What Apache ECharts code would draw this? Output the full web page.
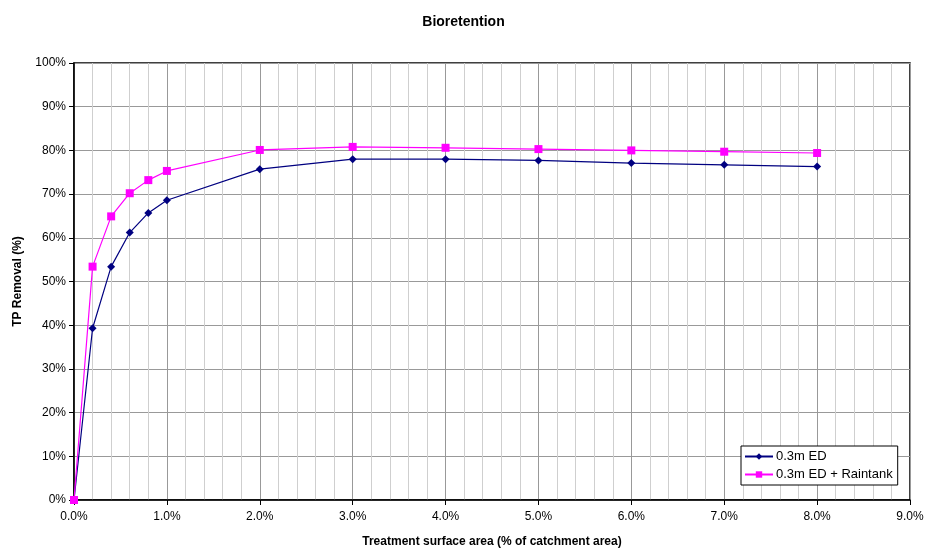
<!DOCTYPE html>
<html><head><meta charset="utf-8">
<script src="https://cdn.jsdelivr.net/npm/echarts@6/dist/echarts.min.js"></script>
<style>html,body{margin:0;padding:0;background:#fff}#c{width:927px;height:553px}</style>
</head><body><div id="c"></div>
<script>
const xValues = [0, 0.2, 0.4, 0.6, 0.8, 1.0, 2.0, 3.0, 4.0, 5.0, 6.0, 7.0, 8.0];
const edValues = [0, 39.3, 53.4, 61.2, 65.7, 68.6, 75.7, 78.0, 78.0, 77.7, 77.1, 76.7, 76.3];
const raintankValues = [0, 53.4, 64.9, 70.2, 73.2, 75.3, 80.1, 80.8, 80.6, 80.3, 80.0, 79.7, 79.4];
const seriesNames = ['0.3m ED', '0.3m ED + Raintank'];

const font = 'Liberation Sans, Arial, sans-serif';
const chart = echarts.init(document.getElementById('c'));
chart.setOption({
  animation: false,
  backgroundColor: '#fff',
  title: { text: 'Bioretention', left: 'center', top: 10,
    textStyle: { fontFamily: font, fontSize: 14, fontWeight: 'bold', color: '#000' } },
  grid: { left: 74, right: 17, top: 63, bottom: 53, show: true, borderColor: '#000', borderWidth: 1.5, backgroundColor: 'transparent' },
  legend: {
    left: 741, top: 446, orient: 'vertical', backgroundColor: '#fff', borderColor: '#000', borderWidth: 1,
    padding: [4, 5, 4, 3], itemGap: 5, itemWidth: 28, itemHeight: 8,
    textStyle: { fontFamily: font, fontSize: 13, color: '#000', padding: [0, 0, 0, -2] },
    data: seriesNames
  },
  xAxis: {
    type: 'value', min: 0, max: 9, interval: 1,
    name: 'Treatment surface area (% of catchment area)', nameLocation: 'middle', nameGap: 36,
    nameTextStyle: { fontFamily: font, fontSize: 12, fontWeight: 'bold', color: '#000' },
    axisLine: { lineStyle: { color: '#000', width: 1.5 } },
    axisTick: { show: true, length: 5, lineStyle: { color: '#000' } },
    axisLabel: { fontFamily: font, fontSize: 12, color: '#000', margin: 11, formatter: v => v.toFixed(1) + '%' },
    splitLine: { show: true, lineStyle: { color: '#999', width: 1 } },
    minorTick: { show: false, splitNumber: 5 },
    minorSplitLine: { show: true, lineStyle: { color: '#cfcfcf', width: 1 } }
  },
  yAxis: {
    type: 'value', min: 0, max: 100, interval: 10,
    name: 'TP Removal (%)', nameLocation: 'middle', nameGap: 50, nameRotate: 90,
    nameTextStyle: { fontFamily: font, fontSize: 12, fontWeight: 'bold', color: '#000' },
    axisLine: { show: true, lineStyle: { color: '#000', width: 1.5 } },
    axisTick: { show: true, length: 5, lineStyle: { color: '#000' } },
    axisLabel: { fontFamily: font, fontSize: 12, color: '#000', margin: 8, formatter: v => v + '%' },
    splitLine: { show: true, lineStyle: { color: '#999', width: 1 } }
  },
  series: [
    { name: seriesNames[0], type: 'line', data: xValues.map((x, i) => [x, edValues[i]]),
      symbol: 'diamond', symbolSize: 8, color: '#000080',
      lineStyle: { color: '#000080', width: 1.2 }, itemStyle: { color: '#000080' }, z: 3 },
    { name: seriesNames[1], type: 'line', data: xValues.map((x, i) => [x, raintankValues[i]]),
      symbol: 'rect', symbolSize: 8, color: '#ff00ff',
      lineStyle: { color: '#ff00ff', width: 1.2 }, itemStyle: { color: '#ff00ff' }, z: 4 }
  ]
});
</script></body></html>
